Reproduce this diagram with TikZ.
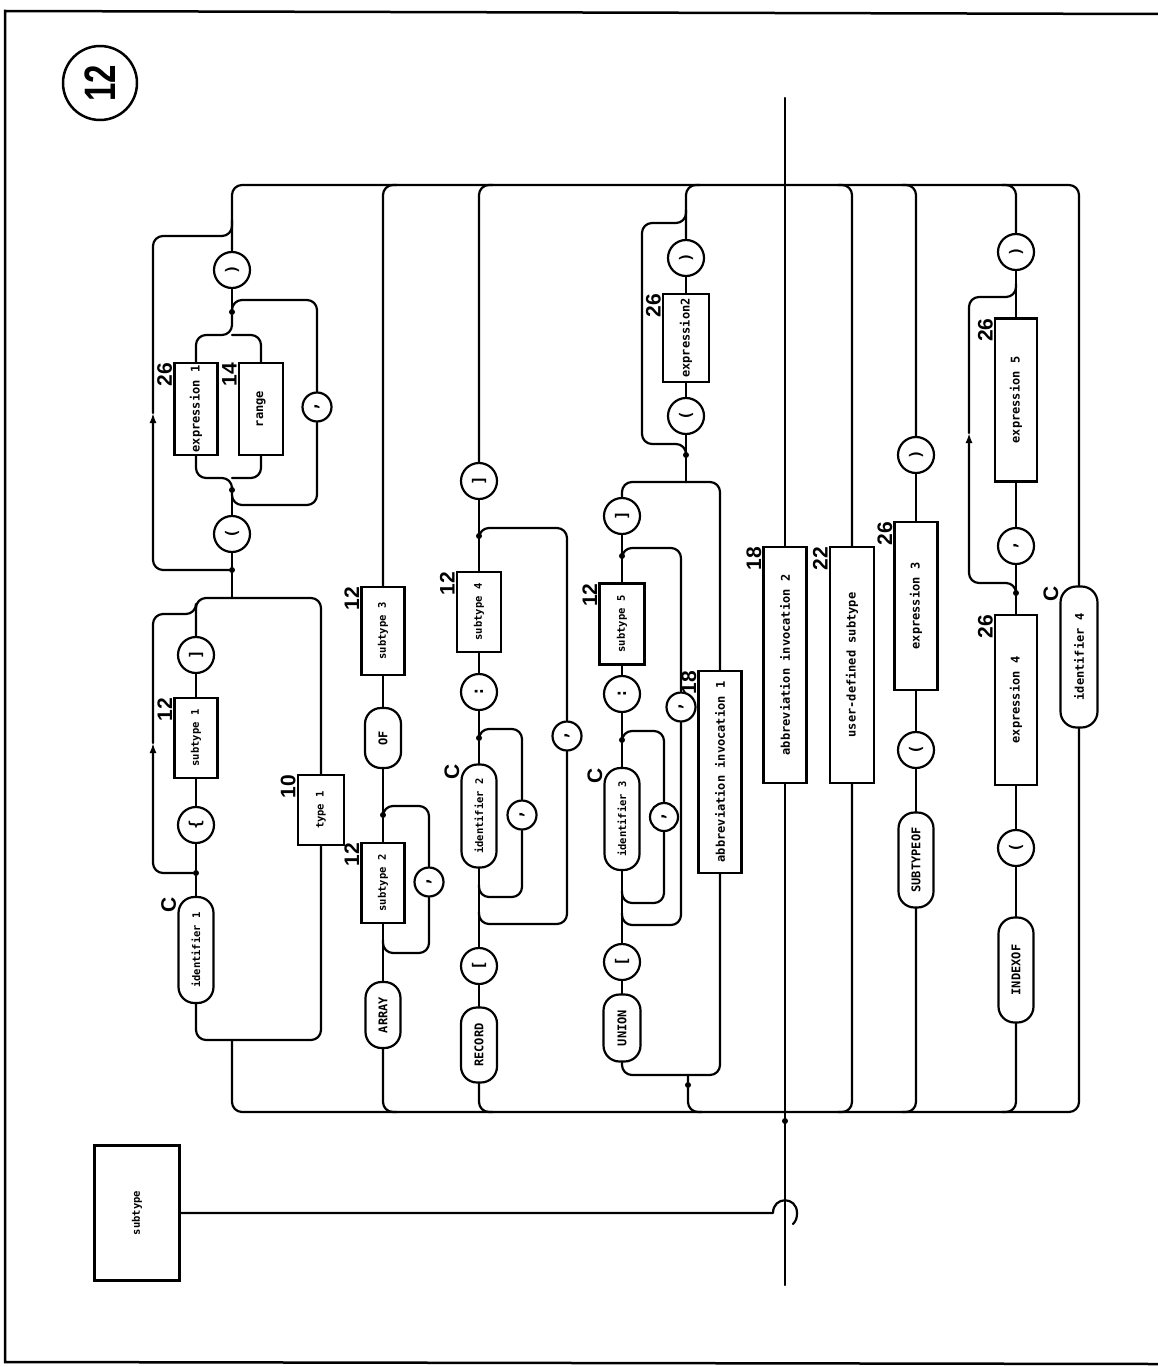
\documentclass[tikz,border=0pt]{standalone}
\usepackage{fontspec}
\setmainfont{Liberation Sans}
\newfontfamily\boxfont{DejaVu Sans Mono}
\usetikzlibrary{arrows.meta}
\tikzset{
  ln/.style={line width=2.2pt, line cap=round, line join=round},
  rc/.style={ln, rounded corners=10pt},
  bx/.style={draw, line width=2.2pt, rotate=90, inner sep=0pt, font=\boxfont\bfseries\fontsize{12}{12}\selectfont},
  sbx/.style={bx, font=\boxfont\bfseries\fontsize{10.5}{11}\selectfont},
  pill/.style={bx, rounded corners=16pt},
  spill/.style={sbx, rounded corners=16pt},
  tok/.style={draw, circle, line width=2.2pt, rotate=90, inner sep=0pt, minimum size=36pt, font=\boxfont\bfseries\fontsize{16}{16}\selectfont},
  ctok/.style={tok, minimum size=29pt},
  jdot/.style={circle, fill, inner sep=0pt, minimum size=6pt},
  lbl/.style={rotate=90, anchor=south east, inner sep=1pt, font=\bfseries\fontsize{21}{21}\selectfont},
  arr/.style={-{Latex[length=10pt,width=7pt]}},
}
\begin{document}
\begin{tikzpicture}[x=1pt,y=-1pt]
\useasboundingbox (0,0) rectangle (1158,1367);
% frame
\draw[line width=2.5pt] (1158,14) -- (5,11) -- (5,1362) -- (1158,1364);
% big number
\node[draw, circle, line width=2.5pt, minimum size=74pt, inner sep=0pt, rotate=90,
  font=\bfseries\fontsize{44}{44}\selectfont] (num) at (100,83) {\scalebox{0.75}[1]{12}};

% ---------- coordinates ----------
\coordinate (mtop) at (785,98);
\coordinate (mbot) at (785,1285);
\coordinate (f1) at (232,1040);
\coordinate (m1) at (232,598);
\coordinate (a1) at (153,743);
\coordinate (b1) at (153,614);
\coordinate (b2) at (196,604);
\coordinate (a2) at (153,413);
\coordinate (b3) at (153,236);
\coordinate (b4) at (232,220);
\coordinate (j1) at (232,478);
\coordinate (j2) at (232,335);
\coordinate (k1) at (232,300);
\coordinate (k2) at (232,505);
\coordinate (h1) at (773,1213);
\coordinate (h2) at (793,1224);

% ---------- column 1 ----------
\node[spill, minimum width=106pt, minimum height=35pt] (idf1) at (196,950) {identifier 1};
\node[jdot] (d1) at (196,873) {};
\node[tok] (lb1) at (196,825) {\{};
\node[sbx, minimum width=80pt, minimum height=43pt] (st1) at (196,738) {subtype 1};
\node[tok] (rb1) at (196,655) {]};
\node[sbx, minimum width=70pt, minimum height=46pt] (type1) at (321,810) {type 1};
\node[jdot] (d2) at (232,570) {};
\node[tok] (lp1) at (232,534) {(};
\node[jdot] (d3) at (232,490) {};
\node[bx, minimum width=92pt, minimum height=43pt] (ex1) at (196,409) {expression 1};
\node[bx, minimum width=92pt, minimum height=44pt] (rng) at (261,409) {range};
\node[jdot] (d4) at (232,312) {};
\node[ctok] (cm1) at (317,407) {,};
\node[tok] (rp1) at (232,270) {)};

% ---------- column 2 ----------
\node[pill, minimum width=66pt, minimum height=35pt] (arrayk) at (383,1015) {ARRAY};
\node[sbx, minimum width=80pt, minimum height=43pt] (st2) at (383,883) {subtype 2};
\node[jdot] (d5) at (383,815) {};
\node[ctok] (cm2) at (429,882) {,};
\node[pill, minimum width=60pt, minimum height=36pt] (of) at (383,738) {OF};
\node[sbx, minimum width=88pt, minimum height=43pt] (st3) at (383,631) {subtype 3};

% ---------- column 3 ----------
\node[pill, minimum width=75pt, minimum height=36pt] (rec) at (479,1045) {RECORD};
\node[tok] (lb3) at (479,966) {[};
\node[spill, minimum width=103pt, minimum height=35pt] (idf2) at (479,816) {identifier 2};
\node[ctok] (cm3) at (522,815) {,};
\node[ctok] (cm4) at (567,736) {,};
\node[jdot] (d6) at (479,738) {};
\node[tok] (cl3) at (479,692) {:};
\node[sbx, minimum width=80pt, minimum height=44pt] (st4) at (479,612) {subtype 4};
\node[jdot] (d7) at (479,536) {};
\node[tok] (rb3) at (479,481) {]};

% ---------- column 4 ----------
\node[pill, minimum width=67pt, minimum height=37pt] (uni) at (622,1028) {UNION};
\node[tok] (lb4) at (622,962) {[};
\node[spill, minimum width=102pt, minimum height=35pt] (idf3) at (622,819) {identifier 3};
\node[ctok, minimum size=28pt] (cm5) at (664,817) {,};
\node[ctok] (cm6) at (681,707) {,};
\node[jdot] (d8) at (622,740) {};
\node[tok] (cl4) at (622,694) {:};
\node[sbx, minimum width=81pt, minimum height=45pt] (st5) at (622,624) {subtype 5};
\node[jdot] (d9) at (622,556) {};
\node[tok] (rb4) at (622,516) {]};
\node[bx, minimum width=202pt, minimum height=43pt] (ab1) at (720,772) {abbreviation invocation 1};
\coordinate (j4b) at (688,1075);
\node[jdot] (d10) at (688,1085) {};
\coordinate (j4t) at (686,482);
\node[jdot] (d11) at (686,455) {};
\node[tok] (lp4) at (686,416) {(};
\node[bx, minimum width=88pt, minimum height=46pt] (ex2) at (686,338) {expression2};
\node[tok] (rp4) at (686,258) {)};

% ---------- column 5, 6 ----------
\node[bx, minimum width=236pt, minimum height=43pt] (ab2) at (785,665) {abbreviation invocation 2};
\node[bx, minimum width=236pt, minimum height=44pt] (ud) at (852,665) {user-defined subtype};

% ---------- column 7 ----------
\node[pill, minimum width=95pt, minimum height=35pt] (sto) at (916,860) {SUBTYPEOF};
\node[tok] (lp7) at (916,750) {(};
\node[bx, minimum width=168pt, minimum height=43pt] (ex3) at (916,606) {expression 3};
\node[tok] (rp7) at (916,455) {)};

% ---------- column 8 ----------
\node[pill, minimum width=105pt, minimum height=35pt] (idx) at (1016,970) {INDEXOF};
\node[tok] (lp8) at (1016,848) {(};
\node[bx, minimum width=170pt, minimum height=42pt] (ex4) at (1016,700) {expression 4};
\node[jdot] (d12) at (1016,593) {};
\node[tok] (cm8) at (1016,546) {,};
\node[bx, minimum width=163pt, minimum height=42pt] (ex5) at (1016,400) {expression 5};
\node[tok] (rp8) at (1016,252) {)};
\coordinate (a3) at (969,433);

% ---------- column 9 ----------
\node[pill, minimum width=141pt, minimum height=37pt] (idf4) at (1079,657) {identifier 4};

% ---------- defined symbol ----------
\node[sbx, minimum width=135pt, minimum height=85pt] (sub) at (137,1213) {subtype};

% ---------- labels ----------
\node[lbl] at (idf1.north east) {C};
\node[lbl] at (st1.north east) {12};
\node[lbl] at (type1.north east) {10};
\node[lbl] at (ex1.north east) {26};
\node[lbl] at (rng.north east) {14};
\node[lbl] at (st2.north east) {12};
\node[lbl] at (st3.north east) {12};
\node[lbl] at (idf2.north east) {C};
\node[lbl] at (st4.north east) {12};
\node[lbl] at (idf3.north east) {C};
\node[lbl] at (st5.north east) {12};
\node[lbl] at (ab1.north east) {18};
\node[lbl] at (ex2.north east) {26};
\node[lbl] at (ab2.north east) {18};
\node[lbl] at (ud.north east) {22};
\node[lbl] at (ex3.north east) {26};
\node[lbl] at (ex4.north east) {26};
\node[lbl] at (ex5.north east) {26};
\node[lbl] at (idf4.north east) {C};

% ---------- buses and main line ----------
\draw[rc] (rp1.east) |- (1079,185) -- (idf4.east);
\draw[rc] (f1) |- (1079,1112) -- (idf4.west);
\draw[ln] (mtop) -- (ab2.east);
\draw[ln] (ab2.west) -- (mbot);
\node[jdot] (d0) at (785,1121) {};
\draw[ln] (sub.south) -- (h1) .. controls (773,1196) and (797,1196) .. (797,1213)
  .. controls (797,1218) and (796,1221) .. (h2);

% ---------- column 1 connectors ----------
\draw[rc] (idf1.west) |- (f1);
\draw[rc] (type1.west) |- (f1);
\draw[ln] (idf1.east) -- (d1) -- (lb1.west);
\draw[ln] (lb1.east) -- (st1.west);
\draw[ln] (st1.east) -- (rb1.west);
\draw[rc] (rb1.east) |- (m1);
\draw[rc] (type1.east) |- (m1);
\draw[ln] (m1) -- (d2) -- (lp1.west);
\draw[ln] (lp1.east) -- (d3);
\draw[rc] (d3) -- (j1) -| (ex1.west);
\draw[rc] (j1) -| (rng.west);
\draw[rc] (ex1.east) |- (j2) -- (d4);
\draw[rc] (rng.east) |- (j2);
\draw[rc] (d4) -- (k1) -| (cm1.east);
\draw[rc] (cm1.west) |- (k2) -- (d3);
\draw[ln] (d4) -- (rp1.west);
\draw[rc,arr] (d1) -| (a1);
\draw[rc] (a1) -- (b1) -| (b2);
\draw[rc,arr] (d2) -| (a2);
\draw[rc] (a2) -- (b3) -| (b4);

% ---------- column 2 connectors ----------
\draw[rc] (arrayk.west) |- (397,1112);
\draw[ln] (arrayk.east) -- (st2.west);
\draw[ln] (st2.east) -- (d5) -- (of.west);
\draw[ln] (of.east) -- (st3.west);
\draw[rc] (st3.east) |- (397,185);
\draw[rc] (d5) -- (383,806) -| (cm2.east);
\draw[rc] (cm2.west) |- (383,953) -- (383,940);

% ---------- column 3 connectors ----------
\draw[rc] (rec.west) |- (493,1112);
\draw[ln] (rec.east) -- (lb3.west);
\draw[ln] (lb3.east) -- (idf2.west);
\draw[ln] (idf2.east) -- (d6) -- (cl3.west);
\draw[ln] (cl3.east) -- (st4.west);
\draw[ln] (st4.east) -- (d7) -- (rb3.west);
\draw[rc] (rb3.east) |- (493,185);
\draw[rc] (d6) -- (479,729) -| (cm3.east);
\draw[rc] (cm3.west) |- (479,897) -- (479,885);
\draw[rc] (d7) -- (479,528) -| (cm4.east);
\draw[rc] (cm4.west) |- (479,924) -- (479,912);

% ---------- column 4 connectors ----------
\draw[rc] (uni.west) |- (j4b);
\draw[rc] (ab1.west) |- (j4b);
\draw[rc] (j4b) -- (d10) |- (702,1112);
\draw[ln] (uni.east) -- (lb4.west);
\draw[ln] (lb4.east) -- (idf3.west);
\draw[ln] (idf3.east) -- (d8) -- (cl4.west);
\draw[ln] (cl4.east) -- (st5.west);
\draw[ln] (st5.east) -- (d9) -- (rb4.west);
\draw[rc] (rb4.east) |- (j4t);
\draw[rc] (ab1.east) |- (j4t);
\draw[ln] (j4t) -- (d11) -- (lp4.west);
\draw[ln] (lp4.east) -- (ex2.west);
\draw[ln] (ex2.east) -- (rp4.west);
\draw[rc] (rp4.east) |- (700,185);
\draw[rc] (d11) -- (686,444) -| (642,223) -| (686,210);
\draw[rc] (d8) -- (622,731) -| (cm5.east);
\draw[rc] (cm5.west) |- (622,903) -- (622,891);
\draw[rc] (d9) -- (622,548) -| (cm6.east);
\draw[rc] (cm6.west) |- (622,925) -- (622,913);

% ---------- column 6 ----------
\draw[rc] (ud.east) |- (838,185);
\draw[rc] (ud.west) |- (838,1112);

% ---------- column 7 ----------
\draw[rc] (sto.west) |- (902,1112);
\draw[ln] (sto.east) -- (lp7.west);
\draw[ln] (lp7.east) -- (ex3.west);
\draw[ln] (ex3.east) -- (rp7.west);
\draw[rc] (rp7.east) |- (902,185);

% ---------- column 8 ----------
\draw[rc] (idx.west) |- (1002,1112);
\draw[ln] (idx.east) -- (lp8.west);
\draw[ln] (lp8.east) -- (ex4.west);
\draw[ln] (ex4.east) -- (d12) -- (cm8.west);
\draw[ln] (cm8.east) -- (ex5.west);
\draw[ln] (ex5.east) -- (rp8.west);
\draw[rc] (rp8.east) |- (1002,185);
\draw[rc,arr] (d12) -- (1016,583) -| (a3);
\draw[rc] (a3) -- (969,297) -| (1016,284);
\end{tikzpicture}
\end{document}
